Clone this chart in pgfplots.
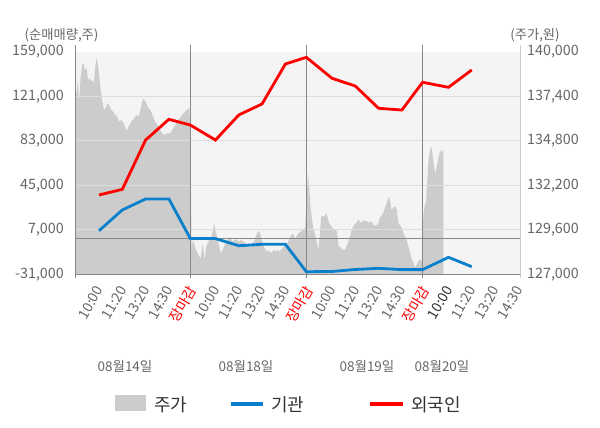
\documentclass[border=0pt]{standalone}
\usepackage{fontspec}
\setmainfont{Noto Sans CJK KR}
\usepackage{pgfplots}
\pgfplotsset{compat=1.18}
\definecolor{bgc}{HTML}{F4F4F4}
\definecolor{areac}{HTML}{CCCCCC}
\definecolor{gridc}{HTML}{DDDDDD}
\definecolor{axc}{HTML}{888888}
\definecolor{rax}{HTML}{CCCCCC}
\definecolor{txt}{HTML}{666666}
\definecolor{dtxt}{HTML}{333333}
\definecolor{blu}{HTML}{0A80CC}
\definecolor{rd}{HTML}{FF0000}
\begin{document}
\begin{tikzpicture}[x=1pt,y=1pt]
\useasboundingbox (0,0) rectangle (600,428);
% price axis (right)
\begin{axis}[at={(75.7pt,153.7pt)}, anchor=south west, scale only axis,
  width=444.3pt, height=222.6pt,
  xmin=-1, xmax=18.07, ymin=127000, ymax=140000,
  axis x line=none, axis y line*=right, y axis line style={draw=none},
  ytick={127000,129600,132200,134800,137400,140000}, ytick style={draw=none},
  scaled y ticks=false,
  /pgf/number format/fixed, /pgf/number format/precision=0,
  /pgf/number format/1000 sep={,}, /pgf/number format/assume math mode=true,
  yticklabel style={font=\fontsize{14.3}{16}\selectfont, text=txt, anchor=west, inner sep=0pt, xshift=7pt},
  axis background/.style={fill=bgc}]
\addplot[fill=areac, draw=none] coordinates {
(-1.00,137660) (-0.959,137660) (-0.902,138347) (-0.859,136987) (-0.787,138540)
(-0.716,139223) (-0.674,139358) (-0.602,138931) (-0.531,139031) (-0.474,138347)
(-0.402,138447) (-0.331,138248) (-0.274,138347) (-0.217,138155) (-0.160,139124)
(-0.103,139673) (-0.046,139223) (0.011,138540) (0.096,137571) (0.182,136788)
(0.267,136595) (0.353,136987) (0.438,136887) (0.524,136595) (0.610,136496)
(0.695,136303) (0.781,136204) (0.866,135912) (0.952,136011) (1.037,135854)
(1.123,135620) (1.180,135369) (1.266,135620) (1.351,135819) (1.437,136011)
(1.522,136111) (1.608,136303) (1.693,136204) (1.779,136595) (1.836,136987)
(1.893,137279) (1.950,137179) (2.036,136987) (2.121,136695) (2.207,136595)
(2.292,136303) (2.378,136011) (2.463,135819) (2.549,135620) (2.634,135427)
(2.720,135235) (2.805,135135) (2.891,135235) (2.976,135235) (3.062,135235)
(3.148,135427) (3.233,135620) (3.347,135912) (3.461,136111) (3.575,136303)
(3.689,136496) (3.803,136636) (3.889,136695)
(3.946,132116) (3.974,128419) (4.031,129003) (4.088,128811) (4.160,128419)
(4.231,128227) (4.302,128028) (4.373,127935) (4.445,128811) (4.488,128419)
(4.545,127835) (4.602,128612) (4.659,128811) (4.730,129003) (4.801,129103)
(4.873,129488) (4.944,129938) (5.015,129488) (5.086,129103) (5.158,128612)
(5.229,128227) (5.300,128419) (5.372,128612) (5.443,128904) (5.514,129003)
(5.586,129103) (5.657,129161) (5.728,128904) (5.799,129003) (5.870,129044)
(5.942,129003) (6.013,128904) (6.084,129003) (6.156,128962) (6.227,128904)
(6.298,128811) (6.370,128711) (6.441,128612) (6.512,128612) (6.583,128811)
(6.655,128904) (6.726,129196) (6.797,129430) (6.869,129546) (6.940,129295)
(7.011,128904) (7.083,128612) (7.154,128419) (7.225,128320) (7.296,128419)
(7.367,128227) (7.439,128320) (7.510,128419) (7.581,128320) (7.653,128460)
(7.724,128320) (7.795,128419) (7.867,128519) (7.938,128612) (8.009,128711)
(8.081,128811) (8.152,129003) (8.223,129196) (8.294,129395) (8.366,129237)
(8.437,129103) (8.508,129295) (8.580,129395) (8.651,129488) (8.722,129587)
(8.793,129646) (8.850,129687)
(8.893,130948) (8.936,132116) (8.979,132899) (9.021,132023) (9.078,130948)
(9.136,130271) (9.193,129687) (9.249,129488) (9.307,129103) (9.364,128811)
(9.420,128419) (9.478,129295) (9.535,130364) (9.592,130405) (9.649,130364)
(9.706,130463) (9.763,130563) (9.820,130271) (9.877,129979) (9.934,129879)
(9.991,129780) (10.048,129687) (10.105,129587) (10.162,129587) (10.219,129488)
(10.276,128653) (10.333,128612) (10.390,128519) (10.447,128419) (10.504,128460)
(10.561,128419) (10.618,128612) (10.675,128811) (10.732,129003) (10.789,129295)
(10.847,129587) (10.903,129780) (10.960,129879) (11.018,129979) (11.074,130072)
(11.131,130212) (11.189,130072) (11.246,129979) (11.302,130072) (11.360,130171)
(11.417,130072) (11.474,130130) (11.531,130072) (11.588,129979) (11.645,130072)
(11.702,130072) (11.759,129938) (11.816,129821) (11.873,129879) (11.930,129879)
(11.987,129979) (12.044,130271) (12.101,130364) (12.158,130463) (12.215,130656)
(12.272,130855) (12.329,131047) (12.386,131339) (12.443,131532) (12.500,131240)
(12.557,130755) (12.614,130855) (12.671,130948) (12.728,130948) (12.785,130755)
(12.842,130072) (12.899,129879) (12.956,129780) (13.013,129687) (13.071,129395)
(13.128,129196) (13.185,129103) (13.242,128811) (13.299,128519) (13.356,128227)
(13.413,127935) (13.470,127736) (13.527,127543) (13.584,127409) (13.641,127602)
(13.698,127736) (13.755,127835) (13.812,127876) (13.840,127718)
(13.869,127800) (13.900,129587) (13.926,130463) (13.983,131047) (14.040,131240)
(14.097,132700) (14.154,133775) (14.211,134259) (14.268,134452) (14.325,133868)
(14.382,133284) (14.439,132899) (14.496,133284) (14.553,133675) (14.610,134067)
(14.667,134259) (14.724,134067) (14.782,134359)
} \closedcycle;
\end{axis}
% net buying axis (left)
\begin{axis}[at={(75.7pt,153.7pt)}, anchor=south west, scale only axis,
  width=444.3pt, height=222.6pt,
  xmin=-1, xmax=18.07, ymin=-31000, ymax=159000,
  clip mode=individual,
  axis x line*=bottom, axis y line*=left,
  y axis line style={draw=none}, x axis line style={draw=axc, line width=0.8pt},
  ytick={-31000,7000,45000,83000,121000,159000}, ytick style={draw=none},
  extra y ticks={7000,45000,83000,121000}, extra y tick labels={},
  extra y tick style={grid=major, major grid style={draw=gridc, line width=0.8pt}},
  scaled y ticks=false,
  /pgf/number format/fixed, /pgf/number format/precision=0,
  /pgf/number format/1000 sep={,}, /pgf/number format/assume math mode=true,
  yticklabel style={font=\fontsize{14.3}{16}\selectfont, text=txt, anchor=east, inner sep=0pt, xshift=-11.7pt},
  xtick={0,...,18}, xtick style={draw=none},
  xticklabels={10:00,11:20,13:20,14:30,{\color{rd}장마감},10:00,11:20,13:20,14:30,{\color{rd}장마감},10:00,11:20,13:20,14:30,{\color{rd}장마감},{\color{dtxt}10:00},11:20,13:20,14:30},
  xticklabel style={font=\fontsize{14}{15}\selectfont, text=txt, inner sep=0pt, xshift=0.5pt, yshift=-13pt, rotate=60, anchor=east}]
\draw[axc, line width=0.9pt] (axis cs:-1,0) -- (axis cs:18.07,0);
\pgfplotsinvokeforeach{-1,3.92,8.9,13.89}{
  \draw[axc, line width=0.9pt] (axis cs:#1,-31000) -- ([yshift=7pt]axis cs:#1,159000);
  \draw[axc, line width=0.8pt] (axis cs:#1,-31000) -- ([yshift=-4pt]axis cs:#1,-31000);
}
\draw[rax, line width=0.9pt] (axis cs:18.07,-31000) -- ([yshift=7pt]axis cs:18.07,159000);
\draw[rax, line width=0.8pt] (axis cs:18.07,-31000) -- ([yshift=-4pt]axis cs:18.07,-31000);
\addplot[blu, line width=2.8pt] coordinates {
(0,6200) (1,23900) (2,33300) (3,33300) (3.92,-500) (5,-500) (6,-6600) (7,-5400) (8,-5400)
(8.9,-28800) (10,-28600) (11,-26900) (12,-25900) (13,-27000) (13.89,-27000) (15,-16500) (16,-24500)};
\addplot[rd, line width=2.8pt] coordinates {
(0,36700) (1,41500) (2,83600) (3,101300) (3.92,96400) (5,83600) (6,105000) (7,114400) (8,148500)
(8.9,154200) (10,136300) (11,129700) (12,110700) (13,109200) (13.89,132900) (15,128600) (16,143400)};
\end{axis}
% axis titles
\node[text=txt, font=\fontsize{13.3}{16}\selectfont] at (61.5,393) {(순매매량,주)};
\node[text=txt, font=\fontsize{13.3}{16}\selectfont] at (535,393) {(주가,원)};
% date labels
\node[text=txt, font=\fontsize{13.5}{15}\selectfont] at (125,62) {08월14일};
\node[text=txt, font=\fontsize{13.5}{15}\selectfont] at (246,62) {08월18일};
\node[text=txt, font=\fontsize{13.5}{15}\selectfont] at (367,62) {08월19일};
\node[text=txt, font=\fontsize{13.5}{15}\selectfont] at (442,62) {08월20일};
% legend
\fill[areac] (115,17) rectangle (146,33);
\node[text=dtxt, anchor=west, inner sep=0pt, font=\fontsize{18}{20}\selectfont] at (154,23.5) {주가};
\draw[blu, line width=3.5pt] (231,24.2) -- (263,24.2);
\node[text=dtxt, anchor=west, inner sep=0pt, font=\fontsize{18}{20}\selectfont] at (271,23.5) {기관};
\draw[rd, line width=3.5pt] (370,24.2) -- (403,24.2);
\node[text=dtxt, anchor=west, inner sep=0pt, font=\fontsize{18}{20}\selectfont] at (411,23.5) {외국인};
\end{tikzpicture}
\end{document}
